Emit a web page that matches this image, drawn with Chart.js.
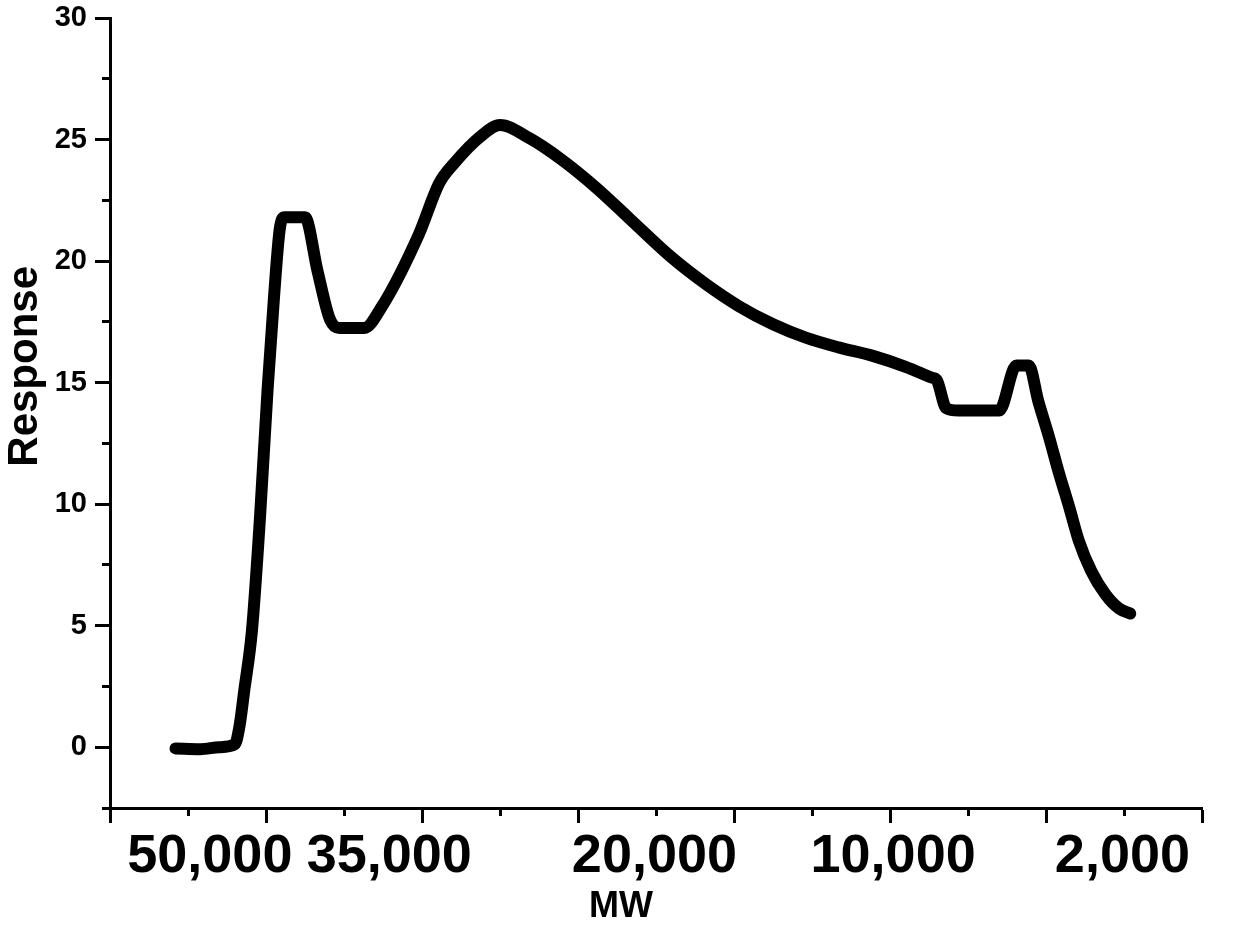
<!DOCTYPE html>
<html>
<head>
<meta charset="utf-8">
<script src="https://cdn.jsdelivr.net/npm/chart.js@4/dist/chart.umd.min.js"></script>
<style>
  html, body { margin: 0; padding: 0; background: #fff; }
  #wrap { width: 1236px; height: 951px; position: relative; }
</style>
</head>
<body>
<div id="wrap"><canvas id="mwChart"></canvas></div>
<script>
// x is in axis units: one unit per major tick on the MW axis (0..7)
const mwPos = [
  0.42, 0.58, 0.70, 0.80, 0.83, 0.86, 0.91, 0.96, 1.01, 1.05,
  1.09, 1.12, 1.25, 1.33, 1.41, 1.47, 1.63, 1.74, 1.98, 2.11,
  2.21, 2.37, 2.50, 2.69, 2.90, 3.12, 3.33, 3.60, 3.82, 4.03,
  4.25, 4.46, 4.67, 4.89, 5.10, 5.27, 5.30, 5.36, 5.44, 5.70,
  5.81, 5.89, 5.95, 6.02, 6.08, 6.15, 6.21, 6.29, 6.38, 6.47,
  6.54
];
const response = [
  -0.05, -0.08, 0.0, 0.12, 0.86, 2.3, 4.8, 9.3, 14.7, 18.4,
  21.4, 21.8, 21.8, 19.6, 17.6, 17.25, 17.25, 18.1, 21.1, 23.2,
  24.05, 25.1, 25.6, 25.05, 24.15, 23.0, 21.75, 20.15, 19.05, 18.15,
  17.4, 16.85, 16.45, 16.1, 15.65, 15.2, 15.1, 13.95, 13.85, 13.85,
  15.7, 15.7, 14.25, 12.75, 11.35, 9.85, 8.5, 7.25, 6.3, 5.7,
  5.5
];

const mwLabels = ["50,000", "35,000", "20,000", "10,000", "2,000"];
const mwLabelPos = [0.64, 1.79, 3.49, 5.02, 6.49];

const xMajorTicks = [0, 1, 2, 3, 4, 5, 6, 7];
const xMinorTicks = [0.5, 1.5, 2.5, 3.5, 4.5, 5.5, 6.5];
const yMajorTicks = [0, 5, 10, 15, 20, 25, 30];
const yMinorTicks = [-2.5, 2.5, 7.5, 12.5, 17.5, 22.5, 27.5];

function setTicks(values) {
  return (scale) => { scale.ticks = values.map((v) => ({ value: v })); };
}

Chart.defaults.font.family = "'Liberation Sans', Arial, sans-serif";
Chart.defaults.color = "#000";

const ctx = document.getElementById("mwChart").getContext("2d");

new Chart(ctx, {
  type: "line",
  data: {
    datasets: [{
      data: mwPos.map((x, i) => ({ x, y: response[i] })),
      borderColor: "#000",
      borderWidth: 12,
      pointRadius: 0,
      cubicInterpolationMode: "monotone",
      borderCapStyle: "round",
      borderJoinStyle: "round",
      xAxisID: "x",
      yAxisID: "y"
    }]
  },
  options: {
    responsive: true,
    maintainAspectRatio: false,
    animation: false,
    layout: { padding: { top: 18, right: 34, bottom: 0, left: 0 } },
    plugins: {
      legend: { display: false },
      tooltip: { enabled: false }
    },
    scales: {
      x: {
        type: "linear", position: "bottom", weight: 1, min: 0, max: 7,
        afterBuildTicks: setTicks(xMajorTicks),
        ticks: { display: false },
        grid: { drawOnChartArea: false, tickLength: 15, tickWidth: 3, tickColor: "#000" },
        border: { color: "#000", width: 3 },
        afterFit(scale) { scale.height = 0; }
      },
      xMinor: {
        type: "linear", position: "bottom", weight: 0, min: 0, max: 7,
        afterBuildTicks: setTicks(xMinorTicks),
        ticks: { display: false },
        grid: { drawOnChartArea: false, tickLength: 8, tickWidth: 3, tickColor: "#000" },
        border: { display: false },
        afterFit(scale) { scale.height = 0; }
      },
      xLab: {
        type: "linear", position: "bottom", weight: 2, min: 0, max: 7,
        afterBuildTicks: setTicks(mwLabelPos),
        ticks: {
          autoSkip: false, maxRotation: 0, padding: 17,
          font: { size: 54, weight: "bold" },
          callback: (v, i) => mwLabels[i]
        },
        grid: { display: false, drawTicks: false },
        border: { display: false },
        title: {
          display: true,
          text: "MW       ",
          font: { size: 36, weight: "bold" },
          padding: { top: 0, bottom: 22 }
        },
        afterFit(scale) {
          scale.height = 143;
          scale.paddingLeft = 0;
          scale.paddingRight = 0;
        }
      },
      y: {
        type: "linear", position: "left", weight: 1, min: -2.5, max: 30,
        afterBuildTicks: setTicks(yMajorTicks),
        ticks: {
          padding: 8,
          font: { size: 29, weight: "bold" },
          callback: (v) => String(v)
        },
        grid: { drawOnChartArea: false, tickLength: 15, tickWidth: 3, tickColor: "#000" },
        border: { color: "#000", width: 3 },
        title: {
          display: true,
          text: "        Response",
          font: { size: 42, weight: "bold" },
          padding: 0
        },
        afterFit(scale) {
          scale.width = 110;
          scale.paddingTop = 0;
          scale.paddingBottom = 0;
        }
      },
      yMinor: {
        type: "linear", position: "left", weight: 0, min: -2.5, max: 30,
        afterBuildTicks: setTicks(yMinorTicks),
        ticks: { display: false },
        grid: { drawOnChartArea: false, tickLength: 8, tickWidth: 3, tickColor: "#000" },
        border: { display: false },
        afterFit(scale) { scale.width = 0; }
      }
    }
  }
});
</script>
</body>
</html>
